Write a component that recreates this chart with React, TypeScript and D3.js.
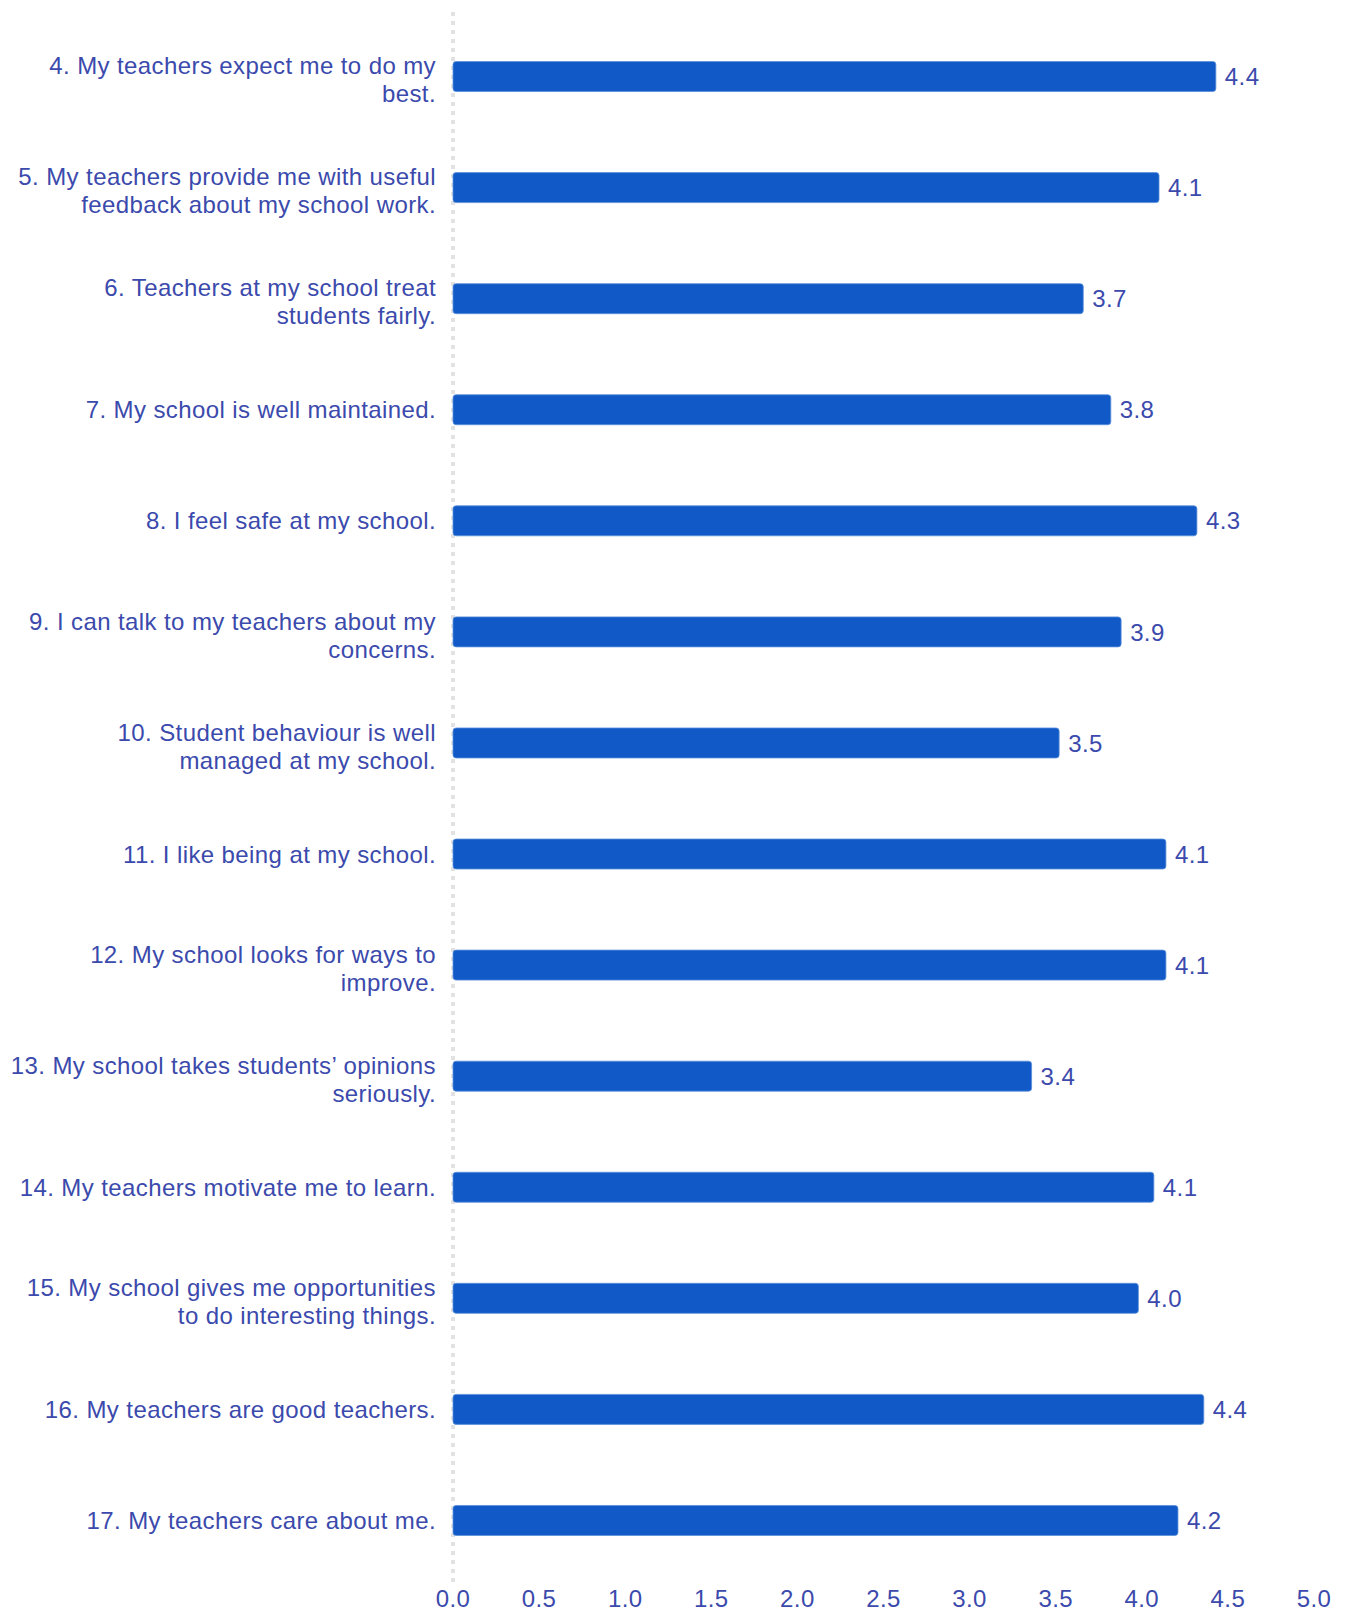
import React, { useEffect, useRef } from "react";
import * as d3 from "d3";

// survey statements (already split the way the original wraps them)
const questions: string[][] = [
  ["4. My teachers expect me to do my", "best."],
  ["5. My teachers provide me with useful", "feedback about my school work."],
  ["6. Teachers at my school treat", "students fairly."],
  ["7. My school is well maintained."],
  ["8. I feel safe at my school."],
  ["9. I can talk to my teachers about my", "concerns."],
  ["10. Student behaviour is well", "managed at my school."],
  ["11. I like being at my school."],
  ["12. My school looks for ways to", "improve."],
  ["13. My school takes students\u2019 opinions", "seriously."],
  ["14. My teachers motivate me to learn."],
  ["15. My school gives me opportunities", "to do interesting things."],
  ["16. My teachers are good teachers."],
  ["17. My teachers care about me."],
];

const meanScores: number[] = [
  4.43, 4.1, 3.66, 3.82, 4.32, 3.88, 3.52, 4.14, 4.14, 3.36, 4.07, 3.98, 4.36,
  4.21,
];

const xTicks: number[] = [0, 0.5, 1, 1.5, 2, 2.5, 3, 3.5, 4, 4.5, 5];

const App: React.FC = () => {
  const svgRef = useRef<SVGSVGElement | null>(null);

  useEffect(() => {
    const width = 1345;
    const height = 1612;
    const marginLeft = 453;
    const marginRight = 31;
    const marginTop = 21;
    const bandBottom = 1576;
    const barColor = "#1159c6";
    const textColor = "#3b4aac";
    const font = "'Liberation Sans', Arial, sans-serif";
    const fontSize = "24px";
    const spacing = "0.4px";

    const svg = d3
      .select(svgRef.current)
      .attr("width", width)
      .attr("height", height)
      .attr("viewBox", [0, 0, width, height])
      .style("font-family", font);

    svg.selectAll("*").remove();

    const x = d3
      .scaleLinear()
      .domain([0, 5])
      .range([marginLeft, width - marginRight]);

    const y = d3
      .scaleBand()
      .domain(questions.map((_, i) => i.toString()))
      .range([marginTop, bandBottom])
      .paddingInner(0.73)
      .paddingOuter(0.365);

    // dotted baseline
    svg
      .append("line")
      .attr("x1", x(0))
      .attr("x2", x(0))
      .attr("y1", 12)
      .attr("y2", 1584)
      .attr("stroke", "#e2e2e2")
      .attr("stroke-width", 4)
      .attr("stroke-dasharray", "4 5");

    const rows = svg
      .selectAll(".row")
      .data(meanScores)
      .enter()
      .append("g")
      .attr("class", "row");

    rows
      .append("rect")
      .attr("x", x(0))
      .attr("y", (_, i) => y(i.toString()) as number)
      .attr("width", (d) => x(d) - x(0))
      .attr("height", y.bandwidth())
      .attr("rx", 3)
      .attr("fill", barColor)
      .attr("stroke", "#5b8fdc")
      .attr("stroke-width", 0.8);

    rows
      .append("text")
      .attr("x", (d) => x(d) + 9)
      .attr("y", (_, i) => (y(i.toString()) as number) + y.bandwidth() / 2)
      .attr("dy", "0.36em")
      .attr("fill", textColor)
      .style("font-size", fontSize)
      .style("letter-spacing", spacing)
      .text((d) => d3.format(".1f")(d));

    // category labels, right aligned against the axis
    const lineH = 28;
    questions.forEach((lines, i) => {
      const cy = (y(i.toString()) as number) + y.bandwidth() / 2;
      const shift = lines.length > 1 ? 3 : 0;
      const top = cy - ((lines.length - 1) * lineH) / 2 + shift;
      const t = svg
        .append("text")
        .attr("text-anchor", "end")
        .attr("fill", textColor)
        .style("font-size", fontSize)
        .style("letter-spacing", spacing);
      lines.forEach((ln, j) => {
        t.append("tspan")
          .attr("x", x(0) - 17)
          .attr("y", top + j * lineH)
          .attr("dy", "0.36em")
          .text(ln);
      });
    });

    // x axis tick labels
    svg
      .append("g")
      .selectAll("text")
      .data(xTicks)
      .enter()
      .append("text")
      .attr("x", (d) => x(d))
      .attr("y", 1607)
      .attr("text-anchor", "middle")
      .attr("fill", textColor)
      .style("font-size", fontSize)
      .style("letter-spacing", spacing)
      .text((d) => d3.format(".1f")(d));
  }, []);

  return (
    <div style={{ position: "absolute", left: 0, top: 0 }}>
      <svg ref={svgRef}></svg>
    </div>
  );
};

export default App;
